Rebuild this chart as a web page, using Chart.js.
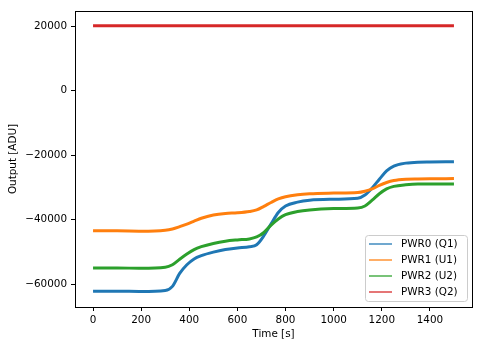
<!DOCTYPE html>
<html>
<head>
<meta charset="utf-8">
<script src="https://cdn.jsdelivr.net/npm/chart.js@4/dist/chart.umd.min.js"></script>
<style>
  html, body { margin: 0; padding: 0; background: #fff; }
  #wrap { width: 483px; height: 347px; position: relative; }
</style>
</head>
<body>
<div id="wrap"><canvas id="c" width="483" height="347"></canvas></div>
<script>
// Sample times [s]
const timeS = [0, 100, 200, 300, 330, 360, 390, 420, 450, 500, 550, 600, 650, 680, 710, 740,
               770, 800, 850, 900, 1000, 1100, 1130, 1160, 1190, 1220, 1250, 1300, 1350, 1400, 1500];

// Output of each channel [ADU]
const pwr0 = [-62200, -62200, -62300, -62000, -60700, -56700, -54000, -52200, -51200, -50100, -49300,
              -48800, -48400, -47800, -45000, -41300, -37800, -35800, -34600, -34000, -33700, -33400,
              -32400, -30200, -27500, -24900, -23400, -22500, -22200, -22150, -22100];
const pwr1 = [-43500, -43500, -43600, -43300, -42900, -42200, -41400, -40500, -39600, -38600, -38100,
              -37900, -37500, -37000, -35900, -34700, -33600, -32900, -32300, -32000, -31800, -31600,
              -31200, -30500, -29400, -28500, -27900, -27500, -27400, -27350, -27300];
const pwr2 = [-55000, -55000, -55100, -54800, -54000, -52300, -50700, -49300, -48400, -47400, -46700,
              -46300, -46000, -45400, -44000, -41700, -39800, -38500, -37500, -37000, -36600, -36400,
              -35800, -34000, -32000, -30500, -29700, -29200, -29000, -29000, -29000];
const pwr3 = [20050, 20050, 20050, 20050, 20050, 20050, 20050, 20050, 20050, 20050, 20050,
              20050, 20050, 20050, 20050, 20050, 20050, 20050, 20050, 20050, 20050, 20050,
              20050, 20050, 20050, 20050, 20050, 20050, 20050, 20050, 20050];

const seriesLabels = ['PWR0 (Q1)', 'PWR1 (U1)', 'PWR2 (U2)', 'PWR3 (Q2)'];
const seriesValues = [pwr0, pwr1, pwr2, pwr3];
const seriesColors = ['#1f77b4', '#ff7f0e', '#2ca02c', '#d62728'];

const xTicks = [0, 200, 400, 600, 800, 1000, 1200, 1400];
const yTicks = [-60000, -40000, -20000, 0, 20000];

const FONT = { family: 'DejaVu Sans', size: 10.4 };
const fmt = v => (v < 0 ? '\u2212' + Math.abs(v) : String(v));

// Box around the whole plotting area
const frame = {
  id: 'frame',
  afterDatasetsDraw(chart) {
    const { ctx, chartArea: a } = chart;
    ctx.save();
    ctx.strokeStyle = '#000';
    ctx.lineWidth = 1;
    ctx.strokeRect(Math.round(a.left) + 0.5, Math.round(a.top) + 0.5,
                   Math.round(a.right - a.left), Math.round(a.bottom - a.top));
    ctx.restore();
  }
};

// Legend box in the lower right corner of the plot
const cornerLegend = {
  id: 'cornerLegend',
  afterDraw(chart) {
    const { ctx, chartArea: a } = chart;
    const right = a.right - 5, bottom = a.bottom - 6;
    const w = 102, h = 66;
    const left = right - w, top = bottom - h;
    ctx.save();
    ctx.beginPath();
    ctx.roundRect(left + 0.5, top + 0.5, w, h, 3);
    ctx.fillStyle = 'rgba(255,255,255,0.8)';
    ctx.fill();
    ctx.strokeStyle = '#cccccc';
    ctx.lineWidth = 1;
    ctx.stroke();
    ctx.font = '10.4px "DejaVu Sans"';
    ctx.textBaseline = 'middle';
    ctx.textAlign = 'left';
    chart.data.datasets.forEach((ds, i) => {
      const y = top + 9 + i * 16;
      ctx.strokeStyle = ds.borderColor;
      ctx.globalAlpha = 0.85;
      ctx.lineWidth = 1.5;
      ctx.beginPath();
      ctx.moveTo(left + 4, y);
      ctx.lineTo(left + 27, y);
      ctx.stroke();
      ctx.globalAlpha = 1;
      ctx.fillStyle = '#000';
      ctx.fillText(ds.label, left + 36, y + 0.5);
    });
    ctx.restore();
  }
};

const datasets = seriesLabels.map((label, i) => ({
  label,
  data: timeS.map((t, k) => ({ x: t, y: seriesValues[i][k] })),
  borderColor: seriesColors[i],
  backgroundColor: seriesColors[i],
  borderWidth: 3,
  pointRadius: 0,
  cubicInterpolationMode: 'monotone',
  fill: false,
  order: seriesLabels.length - i
}));

new Chart(document.getElementById('c'), {
  type: 'line',
  data: { datasets },
  options: {
    responsive: false,
    animation: false,
    devicePixelRatio: 1,
    layout: { padding: { left: 0, right: 11, top: 11, bottom: 0 } },
    plugins: { legend: { display: false }, tooltip: { enabled: false } },
    scales: {
      x: {
        type: 'linear',
        min: -75, max: 1575,
        afterBuildTicks: s => { s.ticks = xTicks.map(v => ({ value: v })); },
        afterFit: s => { s.height = 40; },
        grid: { drawOnChartArea: false, drawTicks: true, tickLength: 4, color: '#000', lineWidth: 1 },
        border: { display: true, color: '#000', width: 1 },
        ticks: { font: FONT, color: '#000', padding: 3, maxRotation: 0, callback: v => fmt(v) },
        title: { display: true, text: 'Time [s]', font: FONT, color: '#000', padding: { top: 0, bottom: 6 } }
      },
      y: {
        type: 'linear',
        min: -67100, max: 24650,
        afterBuildTicks: s => { s.ticks = yTicks.map(v => ({ value: v })); },
        afterFit: s => { s.width = 75; },
        grid: { drawOnChartArea: false, drawTicks: true, tickLength: 4, color: '#000', lineWidth: 1 },
        border: { display: true, color: '#000', width: 1 },
        ticks: { font: FONT, color: '#000', padding: 4, callback: v => fmt(v) },
        title: { display: true, text: 'Output [ADU]', font: FONT, color: '#000', padding: { top: 7, bottom: 0 } }
      }
    }
  },
  plugins: [frame, cornerLegend]
});
</script>
</body>
</html>
